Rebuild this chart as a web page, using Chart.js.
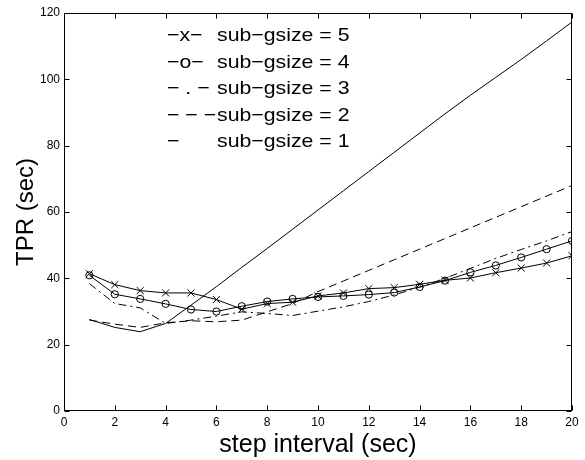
<!DOCTYPE html>
<html><head><meta charset="utf-8">
<script src="https://cdn.jsdelivr.net/npm/chart.js@4.4.0/dist/chart.umd.min.js"></script>
<style>html,body{margin:0;padding:0;background:#fff}#wrap{width:585px;height:460px}</style>
</head><body><div id="wrap"><canvas id="c" width="585" height="460"></canvas></div>
<script>
// ---- data ----
const stepInterval = [1,2,3,4,5,6,7,8,9,10,11,12,13,14,15,16,17,18,19,20];
const tprG5 = [41.4,38.1,36.3,35.6,35.6,33.6,30.7,32.4,32.8,34.7,35.6,36.9,37.2,38.2,39.4,40.1,41.7,43.1,44.6,46.8];
const tprG4 = [40.9,35.2,33.8,32.3,30.6,30.0,31.6,33.0,33.8,34.4,34.7,35.1,35.7,37.4,39.3,41.8,43.9,46.3,48.8,51.3];
const tprG3 = [38.4,32.4,31.1,26.4,27.4,28.6,29.9,29.4,28.8,30.1,31.4,33.0,35.0,37.3,40.0,43.0,46.0,48.7,51.3,54.1];
const tprG2 = [27.4,26.2,25.2,26.6,27.2,26.9,27.4,29.9,32.4,36.0,39.2,42.4,45.6,48.8,52.0,55.2,58.4,61.6,64.8,68.0];
const tprG1 = [27.6,25.2,23.9,26.4,31.9,37.5,43.3,49.0,54.8,60.6,66.4,72.2,78.0,83.8,89.6,95.2,100.6,106.0,111.6,117.3];
const legendSymbols = ['\u2212x\u2212','\u2212o\u2212','\u2212 . \u2212','\u2212 \u2212 \u2212','\u2212'];
const legendLabels = ['sub\u2212gsize = 5','sub\u2212gsize = 4','sub\u2212gsize = 3','sub\u2212gsize = 2','sub\u2212gsize = 1'];
const xTitle = 'step interval (sec)';
const yTitle = 'TPR (sec)';
const xRange = [0, 20, 2];
const yRange = [0, 120, 20];

const pts = arr => stepInterval.map((s,i)=>({x:s,y:arr[i]}));
const base = {borderColor:'#000',borderWidth:1,fill:false,tension:0,pointRadius:0,pointHoverRadius:0};

const frame = {
  id:'frame',
  afterDraw(chart){
    const {ctx, chartArea:a, scales:{x,y}} = chart;
    ctx.save();
    ctx.strokeStyle='#000'; ctx.lineWidth=1;
    const L=Math.round(a.left)+0.5, R=Math.round(a.right)-0.5, T=Math.round(a.top)+0.5, B=Math.round(a.bottom)-0.5;
    ctx.strokeRect(L,T,R-L,B-T);
    ctx.beginPath();
    for(let v=xRange[0]; v<=xRange[1]; v+=xRange[2]){
      const px=Math.round(x.getPixelForValue(v))+0.5;
      ctx.moveTo(px,B); ctx.lineTo(px,B-5);
      ctx.moveTo(px,T); ctx.lineTo(px,T+5);
    }
    for(let v=yRange[0]; v<=yRange[1]; v+=yRange[2]){
      const py=Math.round(y.getPixelForValue(v))+0.5;
      ctx.moveTo(L,py); ctx.lineTo(L+5,py);
      ctx.moveTo(R,py); ctx.lineTo(R-5,py);
    }
    ctx.stroke();
    // legend text
    ctx.fillStyle='#000';
    ctx.font='19px "Liberation Sans", Arial, sans-serif';
    ctx.textBaseline='alphabetic'; ctx.textAlign='left';
    const baselines=[41,67.5,94,120.5,147];
    legendSymbols.forEach((s,i)=>{
      ctx.save(); ctx.translate(167,baselines[i]); ctx.scale(1.12,1); ctx.fillText(s,0,0); ctx.restore();
      ctx.save(); ctx.translate(217,baselines[i]); ctx.scale(1.12,1); ctx.fillText(legendLabels[i],0,0); ctx.restore();
    });
    ctx.restore();
  }
};

new Chart(document.getElementById('c'),{
  type:'line',
  data:{datasets:[
    {...base,label:'sub-gsize = 1',data:pts(tprG1)},
    {...base,label:'sub-gsize = 2',data:pts(tprG2),borderDash:[8,5]},
    {...base,label:'sub-gsize = 3',data:pts(tprG3),borderDash:[8,4,2,4]},
    {...base,label:'sub-gsize = 4',data:pts(tprG4),pointStyle:'circle',pointRadius:3.6,pointBorderColor:'#000',pointBackgroundColor:'rgba(0,0,0,0)',pointBorderWidth:1},
    {...base,label:'sub-gsize = 5',data:pts(tprG5),pointStyle:'crossRot',pointRadius:5,pointBorderColor:'#000',pointBorderWidth:1}
  ]},
  options:{
    responsive:false,animation:false,
    layout:{padding:{top:13,right:13,left:0,bottom:0}},
    plugins:{legend:{display:false},tooltip:{enabled:false}},
    scales:{
      x:{type:'linear',min:xRange[0],max:xRange[1],
        ticks:{stepSize:xRange[2],padding:4,color:'#000',font:{family:'"Liberation Sans", Arial',size:12},maxRotation:0},
        grid:{display:false,drawTicks:false},border:{display:false},
        title:{display:true,text:xTitle,color:'#000',font:{family:'"Liberation Sans", Arial',size:25},padding:{top:0,bottom:0}},
        afterFit(s){s.height=49;}
      },
      y:{type:'linear',min:yRange[0],max:yRange[1],
        ticks:{stepSize:yRange[2],padding:4,color:'#000',font:{family:'"Liberation Sans", Arial',size:12}},
        grid:{display:false,drawTicks:false},border:{display:false},
        title:{display:true,text:yTitle,color:'#000',font:{family:'"Liberation Sans", Arial',size:24},padding:{top:12,bottom:0}},
        afterFit(s){s.width=64;}
      }
    }
  },
  plugins:[frame]
});
</script></body></html>
